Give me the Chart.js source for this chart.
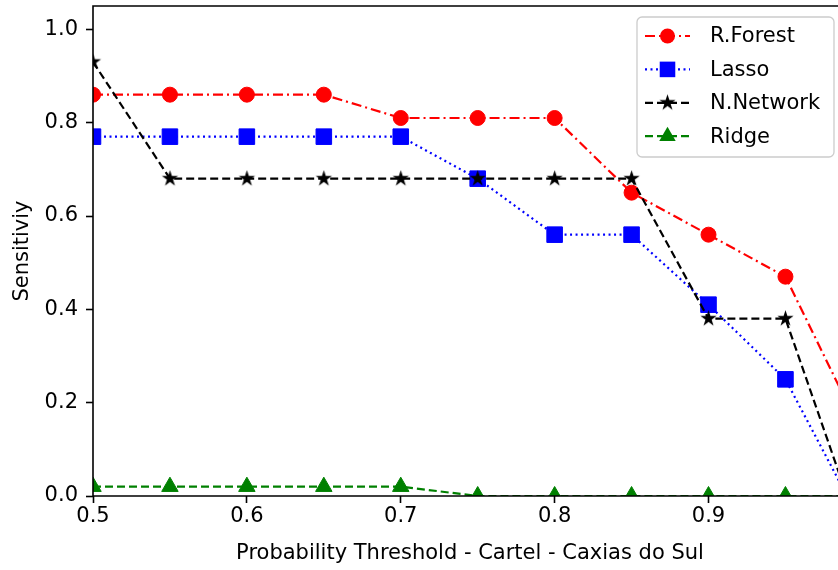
<!DOCTYPE html>
<html><head><meta charset="utf-8">
<script src="https://cdn.jsdelivr.net/npm/chart.js@4.4.1/dist/chart.umd.min.js"></script>
<style>
html,body{margin:0;padding:0;background:#fff;overflow:hidden;width:838px;height:570px;}
#wrap{position:relative;width:838px;height:570px;overflow:hidden;}
canvas{position:absolute;left:0;top:-6px;}
</style></head><body>
<div id="wrap"><canvas id="c" width="860" height="576"></canvas></div>
<script>
const thresholds = [0.5,0.55,0.6,0.65,0.7,0.75,0.8,0.85,0.9,0.95,0.99];
const rforest  = [0.86,0.86,0.86,0.86,0.81,0.81,0.81,0.65,0.56,0.47,0.20];
const lasso    = [0.77,0.77,0.77,0.77,0.77,0.68,0.56,0.56,0.41,0.25,0.00];
const nnetwork = [0.93,0.68,0.68,0.68,0.68,0.68,0.68,0.68,0.38,0.38,0.00];
const ridge    = [0.02,0.02,0.02,0.02,0.02,0.00,0.00,0.00,0.00,0.00,0.00];
const xTicks = [0.5,0.6,0.7,0.8,0.9];
const yTicks = [0.0,0.2,0.4,0.6,0.8,1.0];
const seriesNames = ['R.Forest','Lasso','N.Network','Ridge'];
const xTitle = 'Probability Threshold - Cartel - Caxias do Sul';
const yTitle = 'Sensitiviy';

const FONT = "'DejaVu Sans', sans-serif";
const OFFY = 6; // canvas is shifted up by this many pixels

function makeStar(R){
  const s = Math.ceil(R*2+4);
  const c = document.createElement('canvas'); c.width = s; c.height = s;
  const g = c.getContext('2d');
  g.fillStyle = '#000'; g.beginPath();
  for (let k=0;k<10;k++){
    const r = k%2===0 ? R : R*0.381966;
    const a = -Math.PI/2 + k*Math.PI/5;
    g.lineTo(s/2 + r*Math.cos(a), s/2 + r*Math.sin(a));
  }
  g.closePath(); g.fill();
  return c;
}
const starImg = makeStar(8.5);

const styles = [
  {color:'#ff0000', dash:[10,4,2,4], point:'circle', radius:7.5},
  {color:'#0000ff', dash:[2,3.5], point:'rect', radius:11},
  {color:'#000000', dash:[8,4], point:starImg, radius:9},
  {color:'#008000', dash:[8,4], point:'triangle', radius:9.5}
];
const values = [rforest, lasso, nnetwork, ridge];

const datasets = values.map((vals, i) => ({
  label: seriesNames[i],
  data: thresholds.map((x, j) => ({x: x, y: vals[j]})),
  borderColor: styles[i].color,
  backgroundColor: styles[i].color,
  pointBackgroundColor: styles[i].color,
  pointBorderColor: styles[i].color,
  pointBorderWidth: 1,
  borderWidth: 2.2,
  borderDash: styles[i].dash,
  pointStyle: styles[i].point,
  pointRadius: styles[i].radius,
  pointHoverRadius: styles[i].radius,
  tension: 0,
  clip: 0,
  order: 4 - i
}));

const spinesPlugin = {
  id: 'spines',
  afterDatasetsDraw(chart) {
    const {ctx, chartArea: a} = chart;
    ctx.save();
    ctx.strokeStyle = '#000'; ctx.lineWidth = 1.6; ctx.setLineDash([]);
    ctx.beginPath();
    ctx.rect(a.left, a.top, a.right - a.left, a.bottom - a.top);
    ctx.stroke();
    ctx.restore();
  }
};

const legendPlugin = {
  id: 'mplLegend',
  afterDraw(chart) {
    const ctx = chart.ctx;
    const x0 = 637, y0 = 17 + OFFY, w = 197, h = 140, r = 5;
    ctx.save();
    ctx.beginPath();
    ctx.moveTo(x0 + r, y0);
    ctx.arcTo(x0 + w, y0, x0 + w, y0 + h, r);
    ctx.arcTo(x0 + w, y0 + h, x0, y0 + h, r);
    ctx.arcTo(x0, y0 + h, x0, y0, r);
    ctx.arcTo(x0, y0, x0 + w, y0, r);
    ctx.closePath();
    ctx.fillStyle = 'rgba(255,255,255,0.85)';
    ctx.fill();
    ctx.strokeStyle = '#cccccc'; ctx.lineWidth = 1.3; ctx.stroke();
    seriesNames.forEach((name, i) => {
      const yc = 36 + OFFY + i * 33.4;
      const st = styles[i];
      ctx.strokeStyle = st.color; ctx.fillStyle = st.color;
      ctx.lineWidth = 2.2; ctx.setLineDash(st.dash);
      ctx.beginPath(); ctx.moveTo(645, yc); ctx.lineTo(690, yc); ctx.stroke();
      ctx.setLineDash([]);
      const mx = 667.5;
      ctx.beginPath();
      if (i === 0) { ctx.arc(mx, yc, 7.5, 0, Math.PI * 2); ctx.fill(); }
      else if (i === 1) { const s = 11 * Math.SQRT1_2; ctx.fillRect(mx - s, yc - s, 2 * s, 2 * s); }
      else if (i === 2) { ctx.drawImage(starImg, mx - starImg.width / 2, yc - starImg.height / 2); }
      else {
        const R = 9.5;
        for (let k = 0; k < 3; k++) {
          const a = k * 2 * Math.PI / 3;
          ctx.lineTo(mx + Math.sin(a) * R, yc - Math.cos(a) * R);
        }
        ctx.closePath(); ctx.fill();
      }
      ctx.fillStyle = '#000';
      ctx.font = "21px " + FONT;
      ctx.textAlign = 'left'; ctx.textBaseline = 'middle';
      ctx.fillText(name, 710, yc + 1);
    });
    ctx.restore();
  }
};

new Chart(document.getElementById('c'), {
  type: 'line',
  data: { datasets: datasets },
  options: {
    responsive: false,
    animation: false,
    devicePixelRatio: 1,
    layout: { padding: { left: 0, right: 13, top: 12, bottom: 0 } },
    plugins: { legend: { display: false }, tooltip: { enabled: false } },
    scales: {
      x: {
        type: 'linear',
        min: 0.5, max: 0.99,
        afterBuildTicks: (s) => { s.ticks = xTicks.map(v => ({ value: v })); },
        afterFit: (s) => { s.height = 74; s.paddingLeft = 0; s.paddingRight = 0; s.paddingTop = 0; s.paddingBottom = 0; },
        border: { display: false },
        grid: { display: true, drawOnChartArea: false, drawTicks: true, tickLength: 7, tickWidth: 1.6, tickColor: '#000' },
        ticks: {
          color: '#000', padding: 3, maxRotation: 0, autoSkip: false,
          font: { family: FONT, size: 21, lineHeight: 1.0 },
          callback: (v) => v.toFixed(1)
        },
        title: {
          display: true, text: xTitle, color: '#000',
          font: { family: FONT, size: 21, lineHeight: 1.2 },
          padding: { top: 0, bottom: 4 }
        }
      },
      y: {
        type: 'linear',
        min: 0, max: 1.05,
        afterBuildTicks: (s) => { s.ticks = yTicks.map(v => ({ value: v })); },
        afterFit: (s) => { s.width = 93; s.paddingLeft = 0; s.paddingRight = 0; s.paddingTop = 0; s.paddingBottom = 0; },
        border: { display: false },
        grid: { display: true, drawOnChartArea: false, drawTicks: true, tickLength: 7, tickWidth: 1.6, tickColor: '#000' },
        ticks: {
          color: '#000', padding: 8, autoSkip: false,
          font: { family: FONT, size: 21 },
          callback: (v) => v.toFixed(1)
        },
        title: {
          display: true, text: yTitle, color: '#000',
          font: { family: FONT, size: 21, lineHeight: 1.2 },
          padding: { top: 10, bottom: 0 }
        }
      }
    }
  },
  plugins: [spinesPlugin, legendPlugin]
});
</script>
</body></html>
